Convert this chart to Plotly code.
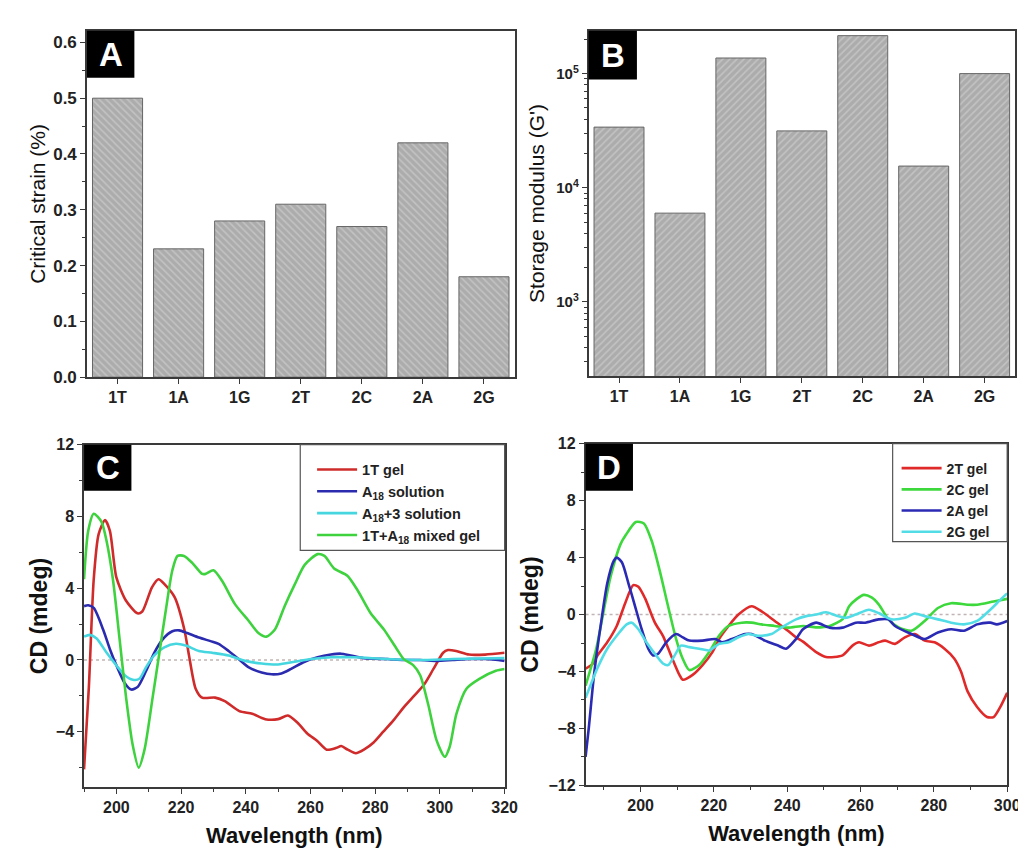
import plotly.graph_objects as go
from plotly.subplots import make_subplots

# ---------------- data ----------------
categories = ["1T", "1A", "1G", "2T", "2C", "2A", "2G"]
critical_strain = [0.50, 0.23, 0.28, 0.31, 0.27, 0.42, 0.18]
storage_modulus = [34000, 6000, 137000, 31500, 215000, 15500, 100000]

c_names = ["1T gel", "A<sub>18</sub> solution", "A<sub>18</sub>+3 solution", "1T+A<sub>18</sub> mixed gel"]

c_1t_x = [190, 191.5, 193, 194.5, 196.5, 198, 200, 203, 206.5, 208, 211, 213, 215, 218, 221, 222.5, 224.5, 226.5,
          230.5, 233.5, 238, 242, 246, 250, 253, 256, 259, 262, 265, 268, 269.5, 271.5, 274, 276.5, 279.5, 282.5,
          285.5, 289, 292, 295, 298, 301, 302.5, 305, 309, 314, 320]
c_1t_y = [-6.1, -1.5, 4.5, 7.0, 7.8, 7.2, 4.6, 3.3, 2.6, 2.7, 4.05, 4.5, 4.2, 3.5, 1.7, 0.2, -1.6, -2.1,
          -2.1, -2.3, -2.85, -3.0, -3.3, -3.3, -3.1, -3.5, -4.1, -4.5, -5.0, -4.9, -4.8, -5.0, -5.2, -5.0, -4.6, -4.0,
          -3.4, -2.6, -2.0, -1.4, -0.5, 0.4, 0.55, 0.5, 0.3, 0.3, 0.4]

c_a18_x = [190, 191.3, 193, 195.9, 198, 200, 202.6, 204.6, 206.6, 209.2, 211.7, 214.3, 217.3, 219.4, 221.9, 225.5,
           229.1, 231.6, 234.7, 237.8, 240.8, 244.9, 248, 251, 254, 258.2, 262.2, 266.3, 269.4, 272.4, 276.5, 283.7,
           288.8, 293.9, 299, 304, 309.2, 314.3, 320]
c_a18_y = [3.0, 3.05, 2.9, 1.7, 0.6, -0.3, -1.3, -1.65, -1.5, -0.6, 0.4, 1.15, 1.6, 1.65, 1.5, 1.25,
           1.05, 0.9, 0.5, 0.05, -0.4, -0.7, -0.8, -0.75, -0.5, -0.1, 0.15, 0.3, 0.35, 0.25, 0.1, 0.05,
           0.0, 0.0, -0.05, 0.0, 0.05, 0.05, -0.05]

c_a18_3_x = [190, 191.8, 193.9, 197, 200, 202.6, 205.1, 207.1, 209.2, 211.7, 214.8, 218.4, 221.4, 225.5, 229.6,
             234.7, 239.8, 244.9, 250, 255.1, 260.2, 266.3, 273.5, 283.7, 293.9, 304, 320]
c_a18_3_y = [1.3, 1.4, 1.2, 0.4, -0.3, -0.85, -1.1, -1.05, -0.4, 0.25, 0.7, 0.9, 0.8, 0.5, 0.4,
             0.25, -0.05, -0.2, -0.25, -0.1, 0.05, 0.15, 0.15, 0.05, 0.0, 0.05, 0.1]

c_mix_x = [190, 191.3, 193, 195.4, 197, 199, 201, 203, 205, 206.9, 208.7, 211.2, 213.3, 215.3, 217.3, 218.9, 220.9,
           223.5, 226.5, 227.6, 230, 232.7, 236.7, 240.8, 243.9, 246.4, 249, 252, 255.1, 258.2, 262.2, 264.3, 267.3,
           271.4, 274.5, 278.6, 282.7, 286.7, 288.8, 291.8, 293.9, 296.4, 299, 301.5, 303, 305.1, 308.2, 312.2,
           317.3, 320]
c_mix_y = [4.5, 7.2, 8.15, 7.7, 6.6, 4.4, 1.15, -2.1, -4.7, -6.0, -5.0, -2.1, 0.4, 2.8, 5.0, 5.8, 5.8,
           5.4, 4.8, 4.8, 5.0, 4.4, 3.1, 2.2, 1.5, 1.3, 1.7, 3.0, 4.2, 5.3, 5.9, 5.8, 5.1,
           4.7, 3.9, 2.6, 1.7, 0.6, 0.05, -0.3, -0.85, -2.5, -4.5, -5.4, -4.85, -3.0, -1.6, -1.05,
           -0.6, -0.5]

d_names = ["2T gel", "2C gel", "2A gel", "2G gel"]

d_2t_x = [185, 186.8, 188.2, 190.9, 193.5, 195.8, 198, 199.4, 201.2, 203.9, 206.1, 208.3, 210.6, 211.5, 214.2,
          216.9, 219.6, 221.4, 224, 226.7, 230.3, 233, 236.6, 240.2, 242.4, 244.3, 247.9, 250.6, 255.1, 257.8,
          259.6, 262.3, 264.9, 266.7, 269.4, 272.1, 274.8, 277.5, 280.2, 282.9, 285.6, 287.4, 289.2, 291.8, 294.5,
          296.3, 298.1, 300]
d_2t_y = [-3.8, -3.5, -2.9, -1.95, -0.8, 0.8, 2.07, 1.95, 1.15, -0.57, -1.5, -2.87, -4.24, -4.58, -4.24,
          -3.55, -2.64, -1.72, -0.8, 0.0, 0.58, 0.23, -0.45, -1.14, -1.6, -1.9, -2.64, -2.98, -2.87, -2.18,
          -1.95, -2.18, -1.95, -1.83, -2.06, -1.6, -1.37, -1.83, -1.95, -2.4, -3.1, -4.0, -5.4, -6.5, -7.2,
          -7.2, -6.5, -5.5]

d_2c_x = [185, 187.9, 190, 191.8, 194.5, 196, 198.7, 200.9, 203, 205.2, 207.5, 209.7, 211.5, 213.3, 216, 218.7,
          221.4, 224, 227.6, 230.3, 233, 236.6, 240.2, 244.4, 248, 251.6, 255.2, 256.9, 259, 260.9, 263, 265,
          267.6, 270.4, 273.9, 277.5, 281.1, 284.7, 289.2, 291.8, 296.3, 300]
d_2c_y = [-5.0, -2.4, 0.34, 2.64, 4.93, 5.6, 6.5, 6.4, 5.2, 3.1, 0.58, -1.72, -3.1, -3.9, -3.55, -2.64,
          -1.49, -0.8, -0.57, -0.57, -0.69, -0.8, -0.92, -0.8, -0.9, -0.8, -0.3, 0.58, 1.1, 1.38, 1.2, 0.7,
          -0.34, -0.9, -1.14, -0.45, 0.46, 0.8, 0.69, 0.69, 0.92, 1.1]

d_2a_x = [185, 185.9, 187.3, 189.1, 190.9, 192.7, 193.5, 194.9, 196.7, 198.5, 200.3, 202.1, 203.4, 204.8, 207,
          209.7, 211.5, 213.3, 216.9, 220.4, 222.2, 224.9, 228.5, 230.3, 233.9, 237.5, 239.7, 242.4, 244.3, 247.9,
          251.5, 255.1, 258.7, 261.3, 264.9, 267.6, 269.4, 273.9, 277.5, 281.1, 284.7, 288.2, 291.8, 295.4, 297.2,
          300]
d_2a_y = [-10.0, -7.9, -4.24, -0.8, 2.18, 3.78, 4.0, 3.67, 2.18, 0.58, -1.03, -2.4, -2.87, -2.75, -1.95,
          -1.37, -1.6, -1.83, -1.83, -1.72, -1.95, -1.72, -1.37, -1.37, -1.83, -2.18, -2.4, -1.72, -1.03, -0.57,
          -0.92, -0.92, -0.57, -0.57, -0.34, -0.34, -0.8, -1.37, -1.72, -1.26, -1.03, -1.14, -0.69, -0.57, -0.69,
          -0.45]

d_2g_x = [185, 186.4, 188.2, 190.9, 193.5, 196.2, 197.6, 199.4, 201.6, 203.9, 206.1, 207.5, 209.3, 211, 213.3, 216,
          218.7, 221.4, 224, 226.7, 229.4, 232.1, 235.7, 238.4, 242.4, 245.2, 247.9, 250.6, 253.3, 256, 258.7,
          262.3, 264.9, 268.5, 272.1, 274.8, 277.5, 281.1, 284.7, 288.2, 291.8, 295.4, 298.1, 300]
d_2g_y = [-5.85, -4.93, -3.78, -2.4, -1.49, -0.69, -0.57, -1.03, -1.95, -2.75, -3.44, -3.55, -2.87, -2.18, -2.29,
          -2.4, -2.52, -2.06, -1.95, -1.6, -1.37, -1.49, -1.37, -0.92, -0.34, -0.11, 0.0, 0.16, -0.07, -0.23, 0.0,
          0.34, 0.11, -0.34, -0.23, 0.07, -0.11, -0.34, -0.57, -0.69, -0.45, 0.34, 1.03, 1.49]

# ---------------- layout helpers ----------------
W, H = 1026, 850
def px(x):
    return x / W
def py(y):
    return (H - y) / H

FONT = "Liberation Sans, Arial, sans-serif"
AX = "#3a3a3a"

fig = make_subplots(rows=2, cols=2)

# ---- A ----
fig.add_trace(go.Bar(
    x=categories, y=critical_strain, width=0.82, showlegend=False,
    marker=dict(color="#b0b0b0", line=dict(color="#666666", width=1),
                pattern=dict(shape="\\", size=5, solidity=0.3, fgcolor="#dadada", bgcolor="#acacac")),
), row=1, col=1)

# ---- B ----
fig.add_trace(go.Bar(
    x=categories, y=storage_modulus, width=0.82, showlegend=False,
    marker=dict(color="#b0b0b0", line=dict(color="#666666", width=1),
                pattern=dict(shape="/", size=5, solidity=0.3, fgcolor="#dadada", bgcolor="#acacac")),
), row=1, col=2)

# ---- C ----
c_series = [(c_1t_x, c_1t_y, "#cf2b2b"), (c_a18_x, c_a18_y, "#2b2bb0"),
            (c_a18_3_x, c_a18_3_y, "#45d6e0"), (c_mix_x, c_mix_y, "#3fd23f")]
for (xs, ys, col), nm in zip(c_series, c_names):
    fig.add_trace(go.Scatter(x=xs, y=ys, mode="lines", name=nm, legend="legend",
                             line=dict(color=col, width=2.6, shape="spline", smoothing=0.7)),
                  row=2, col=1)

# ---- D ----
d_series = [(d_2t_x, d_2t_y, "#e02a2a"), (d_2c_x, d_2c_y, "#3cd83c"),
            (d_2a_x, d_2a_y, "#2a2ab4"), (d_2g_x, d_2g_y, "#52dde6")]
for (xs, ys, col), nm in zip(d_series, d_names):
    fig.add_trace(go.Scatter(x=xs, y=ys, mode="lines", name=nm, legend="legend2",
                             line=dict(color=col, width=2.6, shape="spline", smoothing=0.7)),
                  row=2, col=2)

for r, c in [(2, 1), (2, 2)]:
    fig.add_hline(y=0, row=r, col=c, line=dict(color="#c0b4b4", width=1.5, dash="dot"), layer="below")

def tf(size):
    return dict(family=FONT, size=size, color="#222", weight="bold")

common = dict(showline=True, mirror=True, linecolor=AX, linewidth=1.5, ticks="outside",
              tickcolor=AX, ticklen=5, tickwidth=1.2, showgrid=False, zeroline=False)

fig.update_layout(
    xaxis=dict(domain=[px(80), px(513)], range=[-0.5, 6.5], tickfont=tf(16), **common),
    yaxis=dict(domain=[py(369), py(15)], range=[0, 0.621], dtick=0.1, tickformat=".1f", tickfont=tf(17),
               minor=dict(ticks="outside", ticklen=3, dtick=0.05, tickcolor=AX),
               title=dict(text="Critical strain (%)", standoff=2,
                          font=dict(family=FONT, size=21, color="#111")), **common),
    xaxis2=dict(domain=[px(588), px(1020)], range=[-0.5, 6.5], tickfont=tf(16), **common),
    yaxis2=dict(domain=[py(368), py(15)], type="log", range=[2.35, 5.376], tickfont=tf(15),
                tickvals=[1e3, 1e4, 1e5], ticktext=["10<sup>3</sup>", "10<sup>4</sup>", "10<sup>5</sup>"],
                minor=dict(ticks="outside", ticklen=3, tickcolor=AX,
                           tickvals=[m * 10 ** e for e in (2, 3, 4, 5) for m in range(2, 10)]),
                title=dict(text="Storage modulus (G')", standoff=6,
                           font=dict(family=FONT, size=21, color="#111")), **common),
    xaxis3=dict(domain=[px(77), px(503)], range=[190, 320], tick0=200, dtick=20, tickfont=tf(16),
                minor=dict(ticks="outside", ticklen=3, dtick=10, tickcolor=AX),
                title=dict(text="Wavelength (nm)", standoff=12,
                           font=dict(family=FONT, size=22, color="#111", weight="bold")), **common),
    yaxis3=dict(domain=[py(788), py(438)], range=[-7.1, 12], tick0=0, dtick=4, tickfont=tf(16),
                minor=dict(ticks="outside", ticklen=3, dtick=2, tickcolor=AX),
                title=dict(text="CD (mdeg)", standoff=2,
                           font=dict(family=FONT, size=23, color="#111", weight="bold")), **common),
    xaxis4=dict(domain=[px(585), px(1012)], range=[185, 300], tick0=200, dtick=20, tickfont=tf(16),
                minor=dict(ticks="outside", ticklen=3, dtick=10, tickcolor=AX),
                title=dict(text="Wavelength (nm)", standoff=12,
                           font=dict(family=FONT, size=22, color="#111", weight="bold")), **common),
    yaxis4=dict(domain=[py(786), py(437)], range=[-12, 12], tick0=0, dtick=4, tickfont=tf(16),
                minor=dict(ticks="outside", ticklen=3, dtick=2, tickcolor=AX),
                title=dict(text="CD (mdeg)", standoff=3,
                           font=dict(family=FONT, size=23, color="#111", weight="bold")), **common),
    legend=dict(x=px(308), y=py(447), xanchor="left", yanchor="top", bgcolor="rgba(0,0,0,0)",
                font=tf(14.5), tracegroupgap=0, itemwidth=40),
    legend2=dict(x=px(900), y=py(446), xanchor="left", yanchor="top", bgcolor="rgba(0,0,0,0)",
                 font=tf(14), tracegroupgap=0, itemwidth=40),
    width=W, height=H, margin=dict(l=0, r=0, t=0, b=0),
    plot_bgcolor="white", paper_bgcolor="white", bargap=0.18,
)

# legend frames
fig.add_shape(type="rect", xref="paper", yref="paper", x0=px(296), x1=px(503), y0=py(546), y1=py(438),
              line=dict(color="#555", width=1.2), fillcolor="rgba(0,0,0,0)")
fig.add_shape(type="rect", xref="paper", yref="paper", x0=px(896), x1=px(1012), y0=py(537), y1=py(437),
              line=dict(color="#555", width=1.2), fillcolor="rgba(0,0,0,0)")

# panel letter boxes
for letter, (x0, y0, x1, y1) in {"A": (80, 15, 128, 63), "B": (588, 15, 637, 65),
                                 "C": (77, 438, 125, 485), "D": (585, 437, 633, 485)}.items():
    fig.add_shape(type="rect", xref="paper", yref="paper", x0=px(x0), x1=px(x1), y0=py(y1), y1=py(y0),
                  line=dict(width=0), fillcolor="black")
    fig.add_annotation(x=px((x0 + x1) / 2), y=py((y0 + y1) / 2), xref="paper", yref="paper",
                       text=letter, showarrow=False, xanchor="center", yanchor="middle",
                       font=dict(family=FONT, size=33, color="white", weight="bold"))

fig.write_html("out.html")
